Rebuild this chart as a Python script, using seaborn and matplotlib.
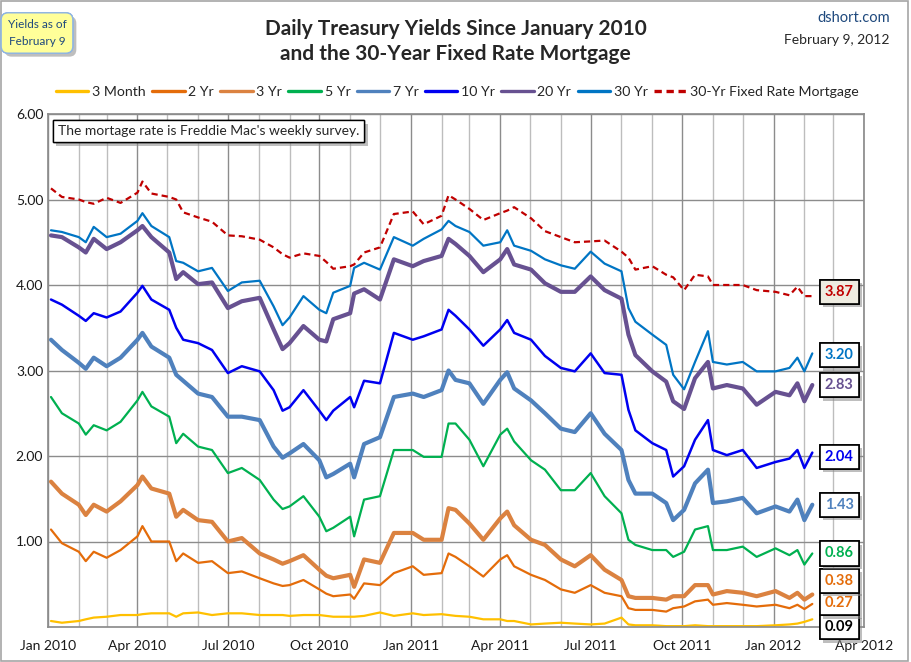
import numpy as np
import pandas as pd
import matplotlib.pyplot as plt
import matplotlib.dates as mdates
import matplotlib.patheffects as pe
from matplotlib.lines import Line2D
from matplotlib.patches import Rectangle
import seaborn as sns

# sample dates (roughly twice a month plus turning points)
dates = [
    '2010-01-04', '2010-01-15', '2010-02-01', '2010-02-08', '2010-02-16', '2010-03-01', '2010-03-15',
    '2010-04-01', '2010-04-06', '2010-04-15', '2010-05-03', '2010-05-10', '2010-05-17', '2010-06-01',
    '2010-06-15', '2010-07-01', '2010-07-15', '2010-08-02', '2010-08-16', '2010-08-25', '2010-09-01',
    '2010-09-15', '2010-10-01', '2010-10-08', '2010-10-15', '2010-11-01', '2010-11-05', '2010-11-15',
    '2010-12-01', '2010-12-15',
    '2011-01-03', '2011-01-14', '2011-02-01', '2011-02-08', '2011-02-15', '2011-03-01', '2011-03-15',
    '2011-04-01', '2011-04-08', '2011-04-15', '2011-05-02', '2011-05-16', '2011-06-01', '2011-06-15',
    '2011-07-01', '2011-07-15', '2011-08-01', '2011-08-08', '2011-08-15', '2011-09-01', '2011-09-15',
    '2011-09-22', '2011-10-03', '2011-10-14', '2011-10-27', '2011-11-01', '2011-11-15', '2011-12-01',
    '2011-12-15',
    '2012-01-03', '2012-01-17', '2012-01-25', '2012-02-01', '2012-02-09',
]

m3 = [0.07, 0.05, 0.07, 0.09, 0.11, 0.12, 0.14, 0.14, 0.15, 0.16, 0.16, 0.12, 0.16, 0.17,
      0.14, 0.16, 0.16, 0.14, 0.14, 0.14, 0.13, 0.14, 0.14, 0.13, 0.12, 0.12, 0.12, 0.13,
      0.17, 0.13,
      0.16, 0.14, 0.15, 0.14, 0.13, 0.12, 0.09, 0.09, 0.07, 0.07, 0.03, 0.04, 0.05, 0.04,
      0.03, 0.04, 0.11, 0.03, 0.02, 0.02, 0.01, 0.01, 0.01, 0.02, 0.01, 0.01, 0.01, 0.01,
      0.01,
      0.02, 0.03, 0.04, 0.06, 0.09]
y2 = [1.14, 0.98, 0.88, 0.77, 0.88, 0.81, 0.90, 1.06, 1.18, 1.00, 1.00, 0.77, 0.86, 0.75,
      0.77, 0.63, 0.65, 0.57, 0.51, 0.48, 0.49, 0.55, 0.44, 0.39, 0.36, 0.38, 0.33, 0.51,
      0.49, 0.63,
      0.71, 0.61, 0.63, 0.86, 0.82, 0.71, 0.59, 0.79, 0.84, 0.71, 0.61, 0.55, 0.44, 0.40,
      0.49, 0.40, 0.36, 0.22, 0.20, 0.20, 0.18, 0.22, 0.24, 0.30, 0.32, 0.26, 0.28, 0.26,
      0.24,
      0.26, 0.22, 0.26, 0.21, 0.27]
y3 = [1.70, 1.56, 1.43, 1.31, 1.43, 1.35, 1.47, 1.66, 1.76, 1.62, 1.56, 1.29, 1.37, 1.25,
      1.23, 1.00, 1.04, 0.86, 0.79, 0.74, 0.77, 0.84, 0.67, 0.60, 0.57, 0.61, 0.47, 0.79,
      0.75, 1.10,
      1.10, 1.02, 1.02, 1.39, 1.37, 1.21, 1.02, 1.27, 1.35, 1.19, 1.02, 0.96, 0.79, 0.71,
      0.84, 0.67, 0.55, 0.36, 0.34, 0.34, 0.32, 0.36, 0.36, 0.49, 0.49, 0.38, 0.42, 0.40,
      0.36,
      0.42, 0.34, 0.40, 0.32, 0.38]
y5 = [2.69, 2.50, 2.38, 2.25, 2.36, 2.30, 2.40, 2.65, 2.75, 2.58, 2.46, 2.15, 2.26, 2.11,
      2.07, 1.80, 1.86, 1.72, 1.49, 1.38, 1.41, 1.53, 1.29, 1.12, 1.16, 1.29, 1.06, 1.49,
      1.53, 2.07,
      2.07, 1.99, 1.99, 2.38, 2.38, 2.19, 1.88, 2.25, 2.32, 2.17, 1.95, 1.84, 1.60, 1.60,
      1.80, 1.53, 1.33, 1.02, 0.96, 0.90, 0.90, 0.82, 0.88, 1.14, 1.18, 0.90, 0.90, 0.94,
      0.82,
      0.92, 0.84, 0.90, 0.73, 0.86]
y7 = [3.36, 3.24, 3.09, 3.02, 3.15, 3.05, 3.15, 3.36, 3.44, 3.28, 3.15, 2.95, 2.88, 2.73,
      2.69, 2.46, 2.46, 2.42, 2.11, 1.98, 2.03, 2.14, 1.95, 1.75, 1.79, 1.91, 1.75, 2.14,
      2.22, 2.69,
      2.73, 2.69, 2.77, 3.00, 2.89, 2.85, 2.61, 2.89, 2.98, 2.79, 2.65, 2.50, 2.32, 2.28,
      2.50, 2.26, 2.07, 1.72, 1.56, 1.56, 1.45, 1.25, 1.37, 1.68, 1.84, 1.45, 1.47, 1.51,
      1.33,
      1.41, 1.35, 1.49, 1.25, 1.43]
y10 = [3.83, 3.77, 3.64, 3.58, 3.67, 3.62, 3.69, 3.91, 3.99, 3.83, 3.71, 3.50, 3.36, 3.32,
       3.24, 2.97, 3.05, 2.99, 2.77, 2.53, 2.57, 2.77, 2.53, 2.42, 2.53, 2.69, 2.57, 2.88,
       2.85, 3.44,
       3.36, 3.40, 3.48, 3.71, 3.64, 3.48, 3.29, 3.48, 3.59, 3.44, 3.36, 3.17, 3.03, 2.99,
       3.20, 2.97, 2.95, 2.54, 2.30, 2.15, 2.07, 1.76, 1.88, 2.19, 2.42, 2.07, 2.01, 2.07,
       1.86,
       1.93, 1.97, 2.07, 1.86, 2.04]
y20 = [4.58, 4.56, 4.44, 4.38, 4.54, 4.42, 4.50, 4.64, 4.69, 4.56, 4.38, 4.07, 4.15, 4.01,
       4.03, 3.73, 3.81, 3.85, 3.48, 3.25, 3.32, 3.52, 3.36, 3.34, 3.60, 3.67, 3.90, 3.95,
       3.83, 4.30,
       4.22, 4.28, 4.34, 4.54, 4.48, 4.34, 4.15, 4.30, 4.42, 4.24, 4.18, 4.02, 3.92, 3.92,
       4.10, 3.94, 3.84, 3.42, 3.18, 2.99, 2.87, 2.64, 2.55, 2.91, 3.10, 2.79, 2.83, 2.79,
       2.60,
       2.75, 2.71, 2.85, 2.64, 2.83]
y30 = [4.64, 4.62, 4.56, 4.50, 4.68, 4.56, 4.60, 4.75, 4.84, 4.69, 4.56, 4.28, 4.26, 4.16,
       4.20, 3.93, 4.03, 4.05, 3.75, 3.53, 3.62, 3.87, 3.71, 3.67, 3.91, 3.99, 4.20, 4.26,
       4.18, 4.56,
       4.46, 4.54, 4.65, 4.75, 4.69, 4.62, 4.46, 4.50, 4.64, 4.46, 4.40, 4.30, 4.23, 4.19,
       4.39, 4.25, 4.16, 3.73, 3.57, 3.42, 3.30, 2.95, 2.78, 3.10, 3.46, 3.10, 3.07, 3.10,
       2.99,
       2.99, 3.03, 3.15, 2.99, 3.20]
mortgage = [5.13, 5.03, 5.00, 4.97, 4.95, 5.02, 4.96, 5.08, 5.21, 5.07, 5.03, 5.00, 4.85, 4.79,
            4.74, 4.58, 4.57, 4.53, 4.44, 4.36, 4.32, 4.37, 4.34, 4.27, 4.19, 4.22, 4.24, 4.38,
            4.44, 4.83,
            4.86, 4.71, 4.81, 5.05, 5.00, 4.89, 4.76, 4.84, 4.87, 4.91, 4.78, 4.63, 4.56, 4.50,
            4.51, 4.52, 4.39, 4.32, 4.18, 4.22, 4.12, 4.09, 3.94, 4.12, 4.10, 4.00, 4.00, 4.00,
            3.94,
            3.92, 3.88, 3.98, 3.87, 3.87]

names = ['3 Month', '2 Yr', '3 Yr', '5 Yr', '7 Yr', '10 Yr', '20 Yr', '30 Yr',
         '30-Yr Fixed Rate Mortgage']
colors = ['#FFC000', '#E46C0A', '#DB8240', '#00B050', '#4F81BD', '#0000F0', '#675191',
          '#0075C4', '#C00000']
widths = [1.6, 1.6, 3.0, 1.6, 3.0, 1.8, 3.0, 1.6, 1.6]
dash_styles = ['', '', '', '', '', '', '', '', (2.8, 1.8)]

df = pd.DataFrame({'date': pd.to_datetime(dates), '3 Month': m3, '2 Yr': y2, '3 Yr': y3,
                   '5 Yr': y5, '7 Yr': y7, '10 Yr': y10, '20 Yr': y20, '30 Yr': y30,
                   '30-Yr Fixed Rate Mortgage': mortgage})
long = df.melt(id_vars='date', var_name='series', value_name='yield')

sns.set_theme(style='white')
plt.rcParams['font.family'] = ['Lato', 'DejaVu Sans']

fig = plt.figure(figsize=(9.11, 6.62), dpi=100)
ax = fig.add_axes([48 / 911, 1 - 627 / 662, 816 / 911, 513 / 662])

sns.lineplot(data=long, x='date', y='yield', hue='series', hue_order=names,
             palette=dict(zip(names, colors)), size='series', size_order=names,
             sizes=dict(zip(names, widths)), style='series', style_order=names,
             dashes=dict(zip(names, dash_styles)), estimator=None, legend=False, ax=ax)

# axes
ax.set_xlim(pd.Timestamp('2010-01-01'), pd.Timestamp('2012-04-01'))
ax.set_ylim(0, 6)
ax.set_yticks([1, 2, 3, 4, 5, 6])
ax.set_yticklabels(['%.2f' % v for v in [1, 2, 3, 4, 5, 6]])
ax.xaxis.set_major_locator(mdates.MonthLocator(bymonth=[1, 4, 7, 10]))
ax.xaxis.set_major_formatter(mdates.DateFormatter('%b %Y'))
ax.xaxis.set_minor_locator(mdates.MonthLocator())
ax.grid(which='major', color='#8C8C8C', lw=1)
ax.grid(which='minor', axis='x', color='#BDBDBD', lw=1)
ax.set_axisbelow(True)
ax.tick_params(axis='both', which='both', length=0, labelsize=10, colors='#1A1A1A')
ax.tick_params(axis='x', pad=9)
ax.set_xlabel('')
ax.set_ylabel('')
for s in ax.spines.values():
    s.set_color('#8C8C8C')

shadow = [pe.withSimplePatchShadow(offset=(2.5, -2.5), shadow_rgbFace='#8A8A8A', alpha=0.55),
          pe.Normal()]

# note box
note = ax.text(0.012, 0.978, "The mortage rate is Freddie Mac's weekly survey.",
               transform=ax.transAxes, ha='left', va='top', fontsize=10, zorder=10,
               bbox=dict(boxstyle='square,pad=0.35', fc='white', ec='black', lw=1))
note.get_bbox_patch().set_path_effects(shadow)

# end value labels
last_vals = [m3[-1], y2[-1], y3[-1], y5[-1], y7[-1], y10[-1], y20[-1], y30[-1], mortgage[-1]]
nudges = [-0.09, 0.01, 0.16, 0.0, 0.0, -0.05, 0.0, -0.02, 0.05]
text_cols = ['black', '#E46C0A', '#E46C0A', '#00B050', '#4F81BD', '#0000F0', '#675191',
             '#0075C4', '#C00000']
label_x = pd.Timestamp('2012-03-07')
for v, nd, tc, nm in zip(last_vals, nudges, text_cols, names):
    bg = '#EEECE1' if nm.startswith('30-Yr') else 'white'
    t = ax.text(label_x, v + nd, '%.2f' % v, ha='center', va='center', fontsize=10.5,
                fontweight='bold', color=tc, zorder=10,
                bbox=dict(boxstyle='square,pad=0.35', fc=bg, ec='black', lw=1.2))
    t.get_bbox_patch().set_path_effects(shadow)

# legend
handles = [Line2D([], [], color=c, lw=2.4, linestyle=(0, (2.2, 1.4)) if d else '-')
           for c, d in zip(colors, dash_styles)]
fig.legend(handles, names, loc='center', bbox_to_anchor=(0.502, 1 - 92 / 662), ncol=9,
           frameon=False, fontsize=10.2, handlelength=2.3, handletextpad=0.25,
           columnspacing=0.45)

# titles
fig.text(0.5, 1 - 29 / 662, 'Daily Treasury Yields Since January 2010', ha='center',
         va='center', fontsize=15, fontweight='bold')
fig.text(0.5, 1 - 54 / 662, 'and the 30-Year Fixed Rate Mortgage', ha='center',
         va='center', fontsize=15, fontweight='bold')
fig.text(890 / 911, 1 - 18 / 662, 'dshort.com', ha='right', va='center', fontsize=10.5,
         color='#1F497D')
fig.text(890 / 911, 1 - 40 / 662, 'February 9, 2012', ha='right', va='center', fontsize=10)
yb = fig.text(37 / 911, 1 - 33 / 662, 'Yields as of\nFebruary 9', ha='center', va='center',
              fontsize=8.5, color='#1F497D', linespacing=1.6,
              bbox=dict(boxstyle='round,pad=0.55,rounding_size=0.6', fc='#FFFF99',
                        ec='#8EB4E3', lw=1))
yb.get_bbox_patch().set_path_effects(shadow)

# outer frame
fig.patches.append(Rectangle((0.001, 0.002), 0.996, 0.996, transform=fig.transFigure,
                             fill=False, ec='#A6A6A6', lw=1.2))

plt.savefig('out.png', dpi=100)
